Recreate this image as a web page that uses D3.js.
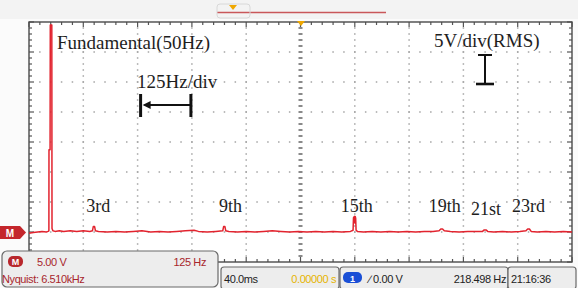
<!DOCTYPE html>
<html>
<head>
<meta charset="utf-8">
<script src="https://cdn.jsdelivr.net/npm/d3@7"></script>
<style>
	body { margin: 0; background: #fbfbfb; }
	svg { display: block; }
</style>
</head>
<body>
<div id="scope"></div>
<script>
// FFT trace (Hz, V rms on the 5V/div scale)
var freqHz = [0, 10, 20, 30, 40, 44, 45.8, 46, 48.5, 49, 52.5, 53, 55, 60, 70, 80, 95, 110, 125, 140,
	146, 148, 151, 153, 160, 180, 200, 220, 240, 260, 280, 300, 320, 340, 360, 380, 390, 410, 430,
	446, 448, 451, 453, 460, 480, 500, 520, 540, 560, 580, 600, 620, 640, 660, 680, 700, 720, 740,
	746, 747, 749, 750, 751, 752, 753, 756, 770, 790, 810, 830, 850, 870, 890, 910, 930,
	944, 948, 952, 956, 970, 990, 1010, 1030, 1044, 1048, 1052, 1056, 1070, 1090, 1110, 1130,
	1144, 1148, 1152, 1156, 1170, 1190, 1210, 1230, 1250];
var levelV = [-0.2, -0.1, 0.0, 0.1, 0.0, 0.1, 0.2, 13.7, 13.7, 34.5, 34.5, 0.6, 0.2, 0.1, 0.2, 0.1, 0.2, 0.1, 0.2, 0.1,
	0.2, 0.9, 0.9, 0.2, 0.1, 0.0, 0.1, 0.0, 0.1, 0.2, 0.0, 0.1, 0.0, 0.1, 0.2, 0.3, 0.1, 0.0, 0.1,
	0.2, 0.9, 0.9, 0.2, 0.1, 0.0, 0.1, 0.0, 0.1, 0.2, 0.1, 0.0, 0.1, 0.0, 0.1, 0.0, 0.1, 0.0, 0.1,
	0.3, 2.4, 2.6, 1.5, 2.6, 2.3, 0.3, 0.1, 0.0, 0.1, 0.0, 0.1, 0.0, 0.1, 0.0, 0.1, 0.1,
	0.2, 0.5, 0.5, 0.2, 0.1, 0.0, 0.1, 0.1, 0.1, 0.35, 0.35, 0.1, 0.0, 0.1, 0.0, 0.1,
	0.2, 0.5, 0.5, 0.1, 0.0, 0.1, 0.0, 0.1, 0.0];

var harmonicNames = ["3rd", "9th", "15th", "19th", "21st", "23rd"];
var harmonicOrder = [3, 9, 15, 19, 21, 23];
var fundamentalHz = 50;

var W = 578, H = 288;
var plot = {left: 29, right: 572, top: 22, bottom: 262};
var hzPerDiv = 125, vPerDiv = 5;

var svg = d3.select("#scope").append("svg")
	.attr("width", W).attr("height", H);

var x = d3.scaleLinear().domain([0, 10 * hzPerDiv]).range([plot.left, plot.right]);
var y = d3.scaleLinear().domain([-1 * vPerDiv, 7 * vPerDiv]).range([plot.bottom, plot.top]);

// top strip (record view)
svg.append("rect").attr("x", 0).attr("y", 0).attr("width", W).attr("height", 19).attr("fill", "#f3f3f3");
svg.append("line").attr("x1", 217).attr("x2", 386).attr("y1", 12.5).attr("y2", 12.5)
	.attr("stroke", "#c9575a").attr("stroke-width", 1.6);
svg.append("rect").attr("x", 217).attr("y", 4).attr("width", 33).attr("height", 14).attr("rx", 3)
	.attr("fill", "none").attr("stroke", "#d8d8d8");
svg.append("path").attr("d", "M229,5 L237,5 L233,10 Z").attr("fill", "#f0a800");

// plot area
svg.append("rect").attr("x", plot.left).attr("y", plot.top)
	.attr("width", plot.right - plot.left).attr("height", plot.bottom - plot.top)
	.attr("fill", "#ffffff");

var grid = svg.append("g").attr("class", "grid");
var xDivs = d3.range(0, 10 * hzPerDiv + 1, hzPerDiv);
var yDivs = d3.range(-1 * vPerDiv, 7 * vPerDiv + 1, vPerDiv);
var xMinor = d3.range(0, 10 * hzPerDiv + 1, hzPerDiv / 5);
var yMinor = d3.range(-1 * vPerDiv, 7 * vPerDiv + 0.01, vPerDiv / 5);

// dotted horizontal lines
yDivs.slice(1, -1).forEach(function(v){
	grid.selectAll(null).data(xMinor.slice(1, -1)).enter().append("rect")
		.attr("x", function(f){ return x(f) - 0.75; })
		.attr("y", y(v) - 0.75)
		.attr("width", 1.5).attr("height", 1.5)
		.attr("fill", "#a5a5a5");
});
// dotted vertical lines
xDivs.slice(1, -1).forEach(function(f){
	var centre = (f == 5 * hzPerDiv);
	grid.selectAll(null).data(yMinor.slice(1, -1)).enter().append("rect")
		.attr("x", x(f) - (centre ? 2 : 0.75))
		.attr("y", function(v){ return y(v) - (centre ? 1 : 0.75); })
		.attr("width", centre ? 4 : 1.5).attr("height", centre ? 2 : 1.5)
		.attr("fill", centre ? "#8a8a8a" : "#a5a5a5");
});

// frame ticks
var ticks = svg.append("g").attr("stroke", "#555").attr("stroke-width", 1.2);
xMinor.forEach(function(f, i){
	var len = (i % 5 == 0) ? 5 : 3;
	ticks.append("line").attr("x1", x(f)).attr("x2", x(f)).attr("y1", plot.top).attr("y2", plot.top + len);
	ticks.append("line").attr("x1", x(f)).attr("x2", x(f)).attr("y1", plot.bottom).attr("y2", plot.bottom - len);
});
yMinor.forEach(function(v, i){
	var len = (i % 5 == 0) ? 5 : 3;
	ticks.append("line").attr("x1", plot.left).attr("x2", plot.left + len).attr("y1", y(v)).attr("y2", y(v));
	ticks.append("line").attr("x1", plot.right).attr("x2", plot.right - len).attr("y1", y(v)).attr("y2", y(v));
});
svg.append("rect").attr("x", plot.left).attr("y", plot.top)
	.attr("width", plot.right - plot.left).attr("height", plot.bottom - plot.top)
	.attr("fill", "none").attr("stroke", "#4a4a4a").attr("stroke-width", 1.4);

// trigger position marker
svg.append("path").attr("d", "M297,21 L305,21 L301,26 Z").attr("fill", "#f0a800");

// spectrum trace
var spectrum = freqHz.map(function(f, i){ return {f: f, v: levelV[i]}; });
var line = d3.line().x(function(d){ return x(d.f); }).y(function(d){ return y(d.v); });
svg.append("path").datum(spectrum)
	.attr("d", line)
	.attr("fill", "none")
	.attr("stroke", "#e2232e")
	.attr("stroke-width", 1.5)
	.attr("stroke-linejoin", "round");

// M reference marker on the left
svg.append("path").attr("d", "M0,226 L20,226 L26,232.5 L20,239 L0,239 Z").attr("fill", "#c4262c");
svg.append("text").attr("x", 10).attr("y", 236.5).attr("text-anchor", "middle")
	.attr("font-family", "Liberation Sans, Arial, sans-serif").attr("font-size", 10).attr("font-weight", "bold")
	.attr("fill", "#fff").text("M");

// annotations (serif, as pasted into the screenshot)
var serif = "Liberation Serif, Times New Roman, serif";
var note = svg.append("g").attr("font-family", serif).attr("fill", "#1e1e1e");
note.append("text").attr("x", 57).attr("y", 49).attr("font-size", 19).text("Fundamental(50Hz)");
note.append("text").attr("x", 137).attr("y", 88).attr("font-size", 19).text("125Hz/div");
note.append("text").attr("x", 434).attr("y", 47).attr("font-size", 19).text("5V/div(RMS)");

var labelDx = [4, 6, 2, 3, 1, 0];
var labelDy = [0, 0, 0, 0, 3, 0];
note.selectAll("text.harm").data(harmonicNames).enter().append("text")
	.attr("class", "harm")
	.attr("x", function(d, i){ return x(harmonicOrder[i] * fundamentalHz) + labelDx[i]; })
	.attr("y", function(d, i){ return 212 + labelDy[i]; })
	.attr("text-anchor", "middle")
	.attr("font-size", 18)
	.text(function(d){ return d; });

// 125 Hz/div bracket
var br = svg.append("g").attr("stroke", "#111").attr("fill", "#111");
var bx0 = x(2 * hzPerDiv) + 3, bx1 = x(3 * hzPerDiv) - 1;
br.append("line").attr("x1", bx0).attr("x2", bx0).attr("y1", 94).attr("y2", 117).attr("stroke-width", 3);
br.append("line").attr("x1", bx1).attr("x2", bx1).attr("y1", 94).attr("y2", 117).attr("stroke-width", 3);
br.append("line").attr("x1", bx0 + 4).attr("x2", bx1).attr("y1", 105).attr("y2", 105).attr("stroke-width", 1.8);
br.append("path").attr("d", "M" + (bx0 + 2) + ",105 L" + (bx0 + 10) + ",101 L" + (bx0 + 10) + ",109 Z").attr("stroke", "none");

// 5 V/div I-beam
var ib = svg.append("g").attr("stroke", "#111");
var yTop = 55, yBot = 84;
ib.append("line").attr("x1", 485).attr("x2", 485).attr("y1", yTop).attr("y2", yBot).attr("stroke-width", 2);
ib.append("line").attr("x1", 478).attr("x2", 492).attr("y1", yTop).attr("y2", yTop).attr("stroke-width", 2);
ib.append("line").attr("x1", 476).attr("x2", 494).attr("y1", yBot).attr("y2", yBot).attr("stroke-width", 2.6);

// readout boxes
var sans = "Liberation Sans, Arial, sans-serif";
var rd = svg.append("g").attr("font-family", sans).attr("font-size", 11);

rd.append("rect").attr("x", 2).attr("y", 251).attr("width", 216).attr("height", 36).attr("rx", 5)
	.attr("fill", "#ededed").attr("stroke", "#6a6a6a").attr("stroke-width", 1.2);
rd.append("rect").attr("x", 8).attr("y", 256).attr("width", 15).attr("height", 11).attr("rx", 5).attr("fill", "#b8272c");
rd.append("text").attr("x", 15.5).attr("y", 265).attr("text-anchor", "middle").attr("font-size", 9)
	.attr("font-weight", "bold").attr("fill", "#fff").text("M");
rd.append("text").attr("x", 37).attr("y", 266).attr("fill", "#a8262c").attr("letter-spacing", -0.4).text("5.00 V");
rd.append("text").attr("x", 206).attr("y", 266).attr("text-anchor", "end").attr("fill", "#a8262c").attr("letter-spacing", -0.4).text("125 Hz");
rd.append("text").attr("x", 2).attr("y", 283).attr("fill", "#a8262c").attr("letter-spacing", -0.4).text("Nyquist: 6.510kHz");

rd.append("rect").attr("x", 221).attr("y", 267).attr("width", 118).attr("height", 22).attr("rx", 3)
	.attr("fill", "#ededed").attr("stroke", "#6a6a6a").attr("stroke-width", 1.2);
rd.append("text").attr("x", 224).attr("y", 283).attr("fill", "#222").attr("letter-spacing", -0.4).text("40.0ms");
rd.append("text").attr("x", 336).attr("y", 283).attr("text-anchor", "end").attr("fill", "#e6b400").attr("letter-spacing", -0.4).text("0.00000 s");

rd.append("rect").attr("x", 340).attr("y", 267).attr("width", 168).attr("height", 22).attr("rx", 3)
	.attr("fill", "#ededed").attr("stroke", "#6a6a6a").attr("stroke-width", 1.2);
rd.append("rect").attr("x", 343).attr("y", 272).attr("width", 19).attr("height", 11).attr("rx", 5).attr("fill", "#1a4fd6");
rd.append("text").attr("x", 352.5).attr("y", 281.5).attr("text-anchor", "middle").attr("font-size", 9)
	.attr("font-weight", "bold").attr("fill", "#fff").text("1");
rd.append("text").attr("x", 369).attr("y", 283).attr("fill", "#222").attr("letter-spacing", -0.4).text("\u2215 0.00 V");
rd.append("text").attr("x", 506).attr("y", 283).attr("text-anchor", "end").attr("fill", "#222").attr("letter-spacing", -0.4).text("218.498 Hz");

rd.append("rect").attr("x", 508).attr("y", 267).attr("width", 68).attr("height", 22).attr("rx", 3)
	.attr("fill", "#ededed").attr("stroke", "#6a6a6a").attr("stroke-width", 1.2);
rd.append("text").attr("x", 511).attr("y", 283).attr("fill", "#222").attr("letter-spacing", -0.4).text("21:16:36");
</script>
</body>
</html>
